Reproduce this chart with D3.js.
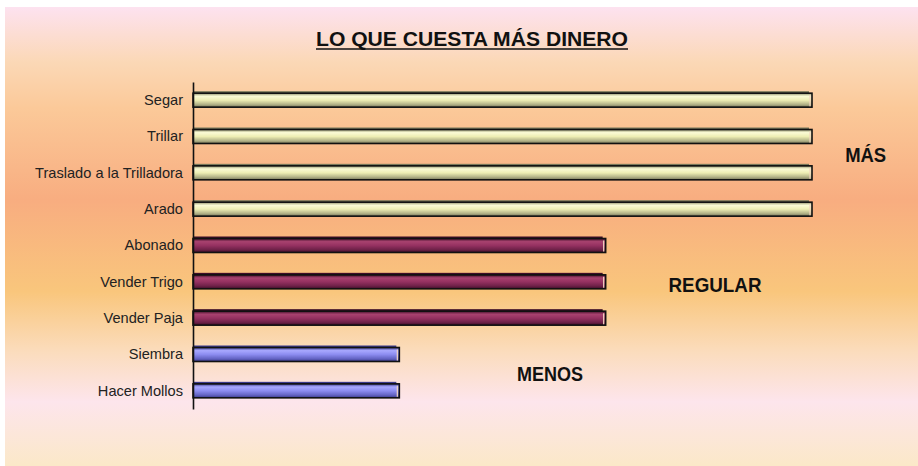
<!DOCTYPE html>
<html>
<head>
<meta charset="utf-8">
<script src="https://cdn.jsdelivr.net/npm/d3@7"></script>
<style>
  body { margin: 0; background: #ffffff; }
  svg { display: block; }
</style>
</head>
<body>
<div id="chart"></div>
<script>
// Chart data
var categories = ["Segar", "Trillar", "Traslado a la Trilladora", "Arado",
                  "Abonado", "Vender Trigo", "Vender Paja", "Siembra", "Hacer Mollos"];
var values = [3, 3, 3, 3, 2, 2, 2, 1, 1];
var groups = ["mas", "mas", "mas", "mas", "regular", "regular", "regular", "menos", "menos"];
var groupLabels = ["MÁS", "REGULAR", "MENOS"];
var titleText = "LO QUE CUESTA MÁS DINERO";

(function () {
    var width = 918, height = 466;

    // where things sit on the page
    var plot = {left: 193, right: 812, top: 82, bottom: 409};

    // gradient colours per group: top edge, highlight, middle, lower, bottom edge
    var palette = {
        mas:     ["#8f8f6a", "#fbfbd6", "#eeeeb4", "#b3b388", "#77775a"],
        regular: ["#3f0f28", "#a8426f", "#953161", "#6e2148", "#3d0d27"],
        menos:   ["#3c3c8c", "#a8a8ff", "#8c8cf0", "#6464c4", "#3a3a8a"]
    };

    var svg = d3.select("#chart").append("svg")
        .attr("width", width)
        .attr("height", height);

    var defs = svg.append("defs");

    // page background gradient
    var bg = defs.append("linearGradient")
        .attr("id", "bg").attr("x1", 0).attr("y1", 0).attr("x2", 0).attr("y2", 1);
    [[0, "#fde2f0"], [0.12, "#fbd8b6"], [0.22, "#fbc999"], [0.42, "#f8ad80"],
     [0.62, "#f9c67c"], [0.75, "#fbdcbc"], [0.86, "#fde5ec"], [1, "#fbe8c8"]]
        .forEach(function (s) {
            bg.append("stop").attr("offset", s[0]).attr("stop-color", s[1]);
        });

    Object.keys(palette).forEach(function (k) {
        var g = defs.append("linearGradient")
            .attr("id", "bar-" + k).attr("x1", 0).attr("y1", 0).attr("x2", 0).attr("y2", 1);
        var cols = palette[k];
        [0, 0.22, 0.5, 0.8, 1].forEach(function (o, i) {
            g.append("stop").attr("offset", o).attr("stop-color", cols[i]);
        });
    });

    svg.append("rect")
        .attr("x", 5).attr("y", 7)
        .attr("width", width - 5).attr("height", height - 7)
        .attr("fill", "url(#bg)");

    // scales
    var x = d3.scaleLinear().domain([0, 3]).range([plot.left, plot.right]);
    var y = d3.scaleBand().domain(categories)
        .range([plot.top, plot.bottom])
        .paddingInner(0.615).paddingOuter(0.3075);

    // title
    svg.append("text")
        .attr("x", 472).attr("y", 46)
        .attr("text-anchor", "middle")
        .attr("textLength", 312).attr("lengthAdjust", "spacingAndGlyphs")
        .style("font-family", "'Liberation Sans Narrow', 'Arial Narrow', 'Liberation Sans', Arial, sans-serif")
        .style("font-size", "21px").style("font-weight", "bold")
        .style("fill", "#111")
        .text(titleText);
    svg.append("line")
        .attr("x1", 316).attr("x2", 628).attr("y1", 49).attr("y2", 49)
        .style("stroke", "#111").style("stroke-width", 1.5);

    // bars
    var rows = categories.map(function (c, i) {
        return {cat: c, val: values[i], grp: groups[i]};
    });

    var bars = svg.append("g").selectAll("g.bar")
        .data(rows).enter().append("g").attr("class", "bar");

    // dark back face, shifted up a bit
    bars.append("rect")
        .attr("x", x(0))
        .attr("y", function (d) { return y(d.cat) - 2; })
        .attr("width", function (d) { return x(d.val) - x(0) - 3; })
        .attr("height", y.bandwidth())
        .style("fill", function (d) { return palette[d.grp][4]; });

    bars.append("rect")
        .attr("x", x(0))
        .attr("y", function (d) { return y(d.cat); })
        .attr("width", function (d) { return x(d.val) - x(0); })
        .attr("height", y.bandwidth())
        .style("fill", function (d) { return "url(#bar-" + d.grp + ")"; })
        .style("stroke", "#111").style("stroke-width", 1.6);

    // light inner edge on the right end
    bars.append("line")
        .attr("x1", function (d) { return x(d.val) - 2; })
        .attr("x2", function (d) { return x(d.val) - 2; })
        .attr("y1", function (d) { return y(d.cat) + 2; })
        .attr("y2", function (d) { return y(d.cat) + y.bandwidth() - 1; })
        .style("stroke", "#f3d6c0").style("stroke-width", 1.2);

    // category axis
    var axis = svg.append("g")
        .attr("transform", "translate(" + plot.left + ",0)")
        .call(d3.axisLeft(y).tickSize(0).tickSizeOuter(0).tickPadding(10));
    axis.select(".domain").style("stroke", "#111").style("stroke-width", 1.6);
    axis.selectAll("text")
        .style("font-family", "'Liberation Sans', Arial, sans-serif")
        .style("font-size", "14.6px")
        .style("fill", "#222");

    // group notes, placed in data units
    var notePos = [[3.26, 1.5], [2.53, 5.1], [1.73, 7.55]];
    var noteWidth = [41, 93, 66];
    svg.append("g").selectAll("text")
        .data(groupLabels).enter().append("text")
        .attr("x", function (d, i) { return x(notePos[i][0]); })
        .attr("y", function (d, i) {
            return y(categories[0]) + y.bandwidth() / 2 + notePos[i][1] * y.step() + 7;
        })
        .attr("text-anchor", "middle")
        .attr("textLength", function (d, i) { return noteWidth[i]; })
        .attr("lengthAdjust", "spacingAndGlyphs")
        .style("font-family", "'Liberation Sans Narrow', 'Arial Narrow', 'Liberation Sans', Arial, sans-serif")
        .style("font-size", "21px").style("font-weight", "bold")
        .style("fill", "#111")
        .text(function (d) { return d; });
})();
</script>
</body>
</html>
